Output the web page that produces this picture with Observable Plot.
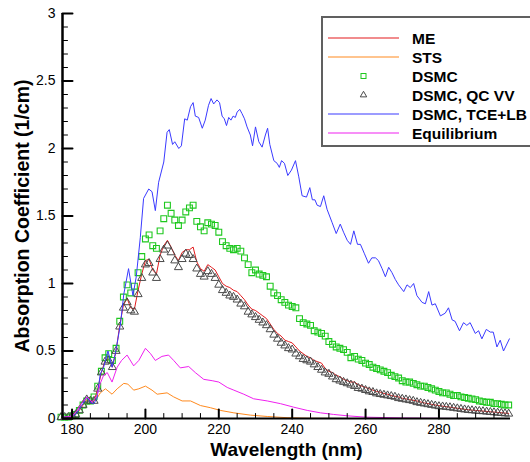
<!DOCTYPE html>
<html><head><meta charset="utf-8">
<script src="https://cdn.jsdelivr.net/npm/d3@7"></script>
<script src="https://cdn.jsdelivr.net/npm/@observablehq/plot@0.6"></script>
<style>body{margin:0;background:#fff;} #chart{position:relative;width:530px;height:462px;overflow:hidden;}</style>
</head><body><div id="chart"></div>
<script>
const seriesNames = ["ME","STS","DSMC","DSMC, QC VV","DSMC, TCE+LB","Equilibrium"];
const seriesColors = ["#e31a1c","#ff8a1e","#1ec81e","#4a4a4a","#3a3aff","#f020f0"];
const xMajorTicks = [180,200,220,240,260,280];
const xMinorTicks = [185,190,195,205,210,215,225,230,235,245,250,255,265,270,275,285,290,295];
const yMajorTicks = [0,0.5,1,1.5,2,2.5,3];
const yMinorTicks = [0.1,0.2,0.3,0.4,0.6,0.7,0.8,0.9,1.1,1.2,1.3,1.4,1.6,1.7,1.8,1.9,2.1,2.2,2.3,2.4,2.6,2.7,2.8,2.9];
const xTitle = "Wavelength (nm)";
const yTitle = "Absorption Coefficient (1/cm)";

// ME
const me = [[177.5,0.01],[179,0.01],[180,0.02],[181,0.03],[182,0.06],[183,0.10],[184,0.14],[185,0.12],[186,0.13],[187,0.22],[188,0.34],[189,0.43],[190,0.44],[191,0.38],[192,0.50],[193,0.69],[194,0.84],[195,0.89],[196,0.82],[197,0.81],[198,0.95],[199,1.07],[200,1.17],[201,1.18],[202,1.10],[203,1.07],[204,1.21],[205,1.28],[206,1.32],[207,1.27],[208,1.21],[209,1.17],[210,1.23],[211,1.25],[212,1.25],[213,1.27],[214,1.16],[215,1.11],[216,1.09],[217,1.14],[218,1.12],[219,1.10],[220,1.05],[221,1.00],[222,0.98],[223,0.97],[224,0.95],[225,0.94],[226,0.91],[227,0.88],[228,0.84],[229,0.81],[230,0.80],[231,0.78],[232,0.76],[233,0.74],[234,0.70],[235,0.66],[236,0.63],[237,0.61],[238,0.58],[239,0.57],[240,0.56],[241,0.53],[242,0.50],[243,0.48],[244,0.46],[245,0.45],[246,0.43],[247,0.42],[248,0.41],[249,0.37],[250,0.35],[251,0.34],[252,0.32],[253,0.31],[254,0.29],[255,0.28],[256,0.27],[257,0.27],[258,0.25],[259,0.24],[260,0.23],[261,0.22],[262,0.21],[263,0.20],[264,0.195],[265,0.185],[266,0.18],[267,0.17],[268,0.165],[269,0.16],[270,0.15],[272,0.14],[274,0.13],[276,0.115],[278,0.105],[280,0.095],[282,0.088],[284,0.08],[286,0.072],[288,0.065],[290,0.06],[292,0.055],[294,0.05],[296,0.045],[298,0.04],[299,0.038]];

// STS
const sts = [[177.5,0.01],[180,0.015],[181.4,0.05],[182.8,0.10],[184.1,0.14],[185.5,0.12],[186.8,0.15],[187.7,0.19],[189.1,0.22],[190.9,0.18],[192.3,0.22],[194.1,0.26],[195.2,0.255],[196.8,0.21],[198.2,0.22],[200,0.24],[201.8,0.21],[203.2,0.18],[205.9,0.19],[207.7,0.16],[210,0.13],[212.3,0.13],[215,0.096],[217.7,0.08],[220.4,0.06],[224.1,0.042],[228.6,0.025],[233.2,0.015],[238.6,0.006],[244,0.002],[255,0.0],[299,0.0]];

// DSMC
const dsmc = [[177,0.01],[178,0.01],[179,0.01],[180,0.02],[181,0.03],[182,0.06],[183,0.10],[184,0.13],[185,0.13],[186,0.16],[187,0.24],[188,0.35],[189,0.45],[190,0.48],[191,0.43],[192,0.52],[193,0.72],[194,0.90],[195,0.99],[196,0.93],[197,0.98],[198,1.08],[199,1.20],[200,1.33],[201,1.36],[202,1.28],[203,1.26],[204,1.39],[205,1.48],[206,1.58],[207,1.52],[208,1.47],[209,1.43],[210,1.47],[211,1.53],[212,1.56],[213,1.58],[214,1.46],[215,1.42],[216,1.39],[217,1.45],[218,1.44],[219,1.43],[220,1.38],[221,1.31],[222,1.28],[223,1.26],[224,1.25],[225,1.26],[226,1.24],[227,1.19],[228,1.14],[229,1.08],[230,1.10],[231,1.07],[232,1.06],[233,1.05],[234,0.98],[235,0.93],[236,0.91],[237,0.88],[238,0.86],[239,0.84],[240,0.83],[241,0.82],[242,0.74],[243,0.71],[244,0.70],[245,0.69],[246,0.65],[247,0.64],[248,0.63],[249,0.61],[250,0.57],[251,0.55],[252,0.53],[253,0.52],[254,0.51],[255,0.49],[256,0.45],[257,0.46],[258,0.44],[259,0.43],[260,0.41],[261,0.40],[262,0.38],[263,0.37],[264,0.36],[265,0.35],[266,0.34],[267,0.32],[268,0.31],[269,0.30],[270,0.28],[271,0.27],[272,0.27],[273,0.26],[274,0.25],[275,0.24],[276,0.24],[277,0.23],[278,0.22],[279,0.21],[280,0.20],[281,0.19],[282,0.19],[283,0.18],[284,0.17],[285,0.17],[286,0.16],[287,0.155],[288,0.15],[289,0.145],[290,0.14],[291,0.13],[292,0.125],[293,0.12],[294,0.12],[295,0.11],[296,0.11],[297,0.105],[298,0.10],[299,0.10]];

// DSMC, QC VV
const qcvv = [[177,0.01],[178,0.01],[179,0.01],[180,0.02],[181,0.03],[182,0.06],[183,0.10],[184,0.14],[185,0.13],[186,0.13],[187,0.22],[188,0.34],[189,0.42],[190,0.43],[191,0.38],[192,0.50],[193,0.68],[194,0.82],[195,0.86],[196,0.80],[197,0.79],[198,0.92],[199,1.04],[200,1.14],[201,1.15],[202,1.08],[203,1.04],[204,1.18],[205,1.25],[206,1.28],[207,1.23],[208,1.17],[209,1.12],[210,1.18],[211,1.22],[212,1.21],[213,1.18],[214,1.11],[215,1.07],[216,1.05],[217,1.09],[218,1.07],[219,1.04],[220,0.99],[221,0.95],[222,0.93],[223,0.91],[224,0.90],[225,0.88],[226,0.85],[227,0.83],[228,0.79],[229,0.77],[230,0.75],[231,0.73],[232,0.71],[233,0.69],[234,0.66],[235,0.62],[236,0.59],[237,0.56],[238,0.54],[239,0.52],[240,0.51],[241,0.48],[242,0.46],[243,0.44],[244,0.43],[245,0.42],[246,0.40],[247,0.38],[248,0.36],[249,0.34],[250,0.33],[251,0.31],[252,0.29],[253,0.28],[254,0.27],[255,0.26],[256,0.25],[257,0.24],[258,0.225],[259,0.22],[260,0.21],[261,0.20],[262,0.195],[263,0.185],[264,0.18],[265,0.175],[266,0.17],[267,0.165],[268,0.16],[269,0.15],[270,0.145],[271,0.14],[272,0.135],[273,0.13],[274,0.12],[275,0.115],[276,0.11],[277,0.105],[278,0.10],[279,0.095],[280,0.09],[281,0.088],[282,0.085],[283,0.082],[284,0.078],[285,0.074],[286,0.07],[287,0.066],[288,0.062],[289,0.06],[290,0.057],[291,0.055],[292,0.053],[293,0.05],[294,0.047],[295,0.045],[296,0.042],[297,0.04],[298,0.037],[299,0.035]];

// DSMC, TCE+LB
const tcelb = [[177.5,0.01],[179,0.01],[180,0.02],[181,0.03],[182,0.07],[183,0.11],[184,0.16],[185,0.12],[185.9,0.11],[186.8,0.15],[187.7,0.33],[188.6,0.38],[189.8,0.50],[190.9,0.38],[191.8,0.48],[193.2,0.70],[194.1,0.92],[195.4,1.11],[196.6,0.91],[197.5,1.05],[198.6,1.34],[199.5,1.63],[200.9,1.70],[201.8,1.68],[202.7,1.54],[203.6,1.75],[205,1.90],[205.9,2.12],[206.5,2.14],[207.4,2.03],[208,2.05],[209.1,2.00],[209.8,2.02],[210.7,2.22],[211.4,2.21],[212.3,2.31],[213,2.34],[213.6,2.24],[214.5,2.23],[215.5,2.15],[216.3,2.21],[217.2,2.32],[217.9,2.37],[218.6,2.33],[219.5,2.36],[220.2,2.34],[220.9,2.24],[221.5,2.22],[222.1,2.17],[222.7,2.23],[223.3,2.21],[223.9,2.24],[224.5,2.23],[225,2.27],[225.7,2.29],[226.3,2.26],[227,2.22],[227.7,2.16],[228.6,2.10],[229.2,2.02],[230,2.16],[230.9,2.05],[231.8,2.01],[232.7,2.10],[233.3,2.15],[233.9,2.03],[235,1.91],[235.9,1.89],[236.5,1.86],[237.1,1.91],[237.9,1.89],[238.8,1.80],[239.8,1.84],[240.9,1.91],[241.8,1.79],[242.7,1.65],[243.9,1.64],[244.8,1.71],[245.5,1.62],[246.2,1.62],[246.8,1.58],[247.7,1.57],[248.6,1.65],[249.5,1.55],[250.9,1.45],[252,1.37],[253.1,1.44],[254,1.38],[255,1.32],[255.9,1.29],[256.8,1.39],[257.8,1.29],[258.6,1.29],[259.7,1.22],[260.8,1.15],[261.7,1.19],[262.7,1.19],[263.5,1.17],[264.5,1.11],[265.4,1.05],[266.3,1.12],[267.2,1.08],[268.1,1.03],[269,0.99],[270.4,0.94],[271.3,0.99],[272.2,0.97],[273.1,1.00],[274,0.91],[275.4,0.86],[276.3,0.85],[277.2,0.94],[278.1,0.84],[279,0.85],[280.4,0.76],[281.7,0.78],[282.6,0.82],[283.6,0.73],[284.4,0.72],[285.6,0.65],[286.7,0.71],[287.6,0.69],[288.5,0.71],[289.9,0.63],[290.8,0.65],[291.7,0.59],[292.9,0.66],[294,0.64],[294.8,0.64],[295.8,0.53],[296.7,0.58],[297.6,0.50],[299.2,0.59]];

// Equilibrium
const equil = [[177.5,0.01],[180,0.015],[181.4,0.06],[182.8,0.12],[184.1,0.16],[185.5,0.12],[186.8,0.17],[187.7,0.26],[188.6,0.32],[189.6,0.34],[190.9,0.27],[192.3,0.38],[193.5,0.43],[195,0.47],[196.8,0.39],[198.2,0.43],[200,0.52],[201.4,0.48],[202.7,0.43],[204.5,0.46],[206.3,0.47],[207.7,0.43],[209.5,0.375],[211.8,0.385],[213.6,0.34],[215.9,0.29],[218.2,0.28],[220,0.27],[222.3,0.23],[224.1,0.21],[226.8,0.18],[229.5,0.146],[233.2,0.13],[236.8,0.11],[240.4,0.084],[244.1,0.06],[247.7,0.042],[251.3,0.03],[255,0.02],[260,0.01],[270,0.004],[280,0.001],[290,0.0],[299,0.0]];

const xDomain = [177.4, 299.5];
const font = "'Liberation Sans', Arial, Helvetica, sans-serif";
const tickShape = {draw(context, l) { context.moveTo(0, 0); context.lineTo(0, -l); }};

const svg = Plot.plot({
  width: 530, height: 462,
  marginLeft: 62, marginRight: 20, marginTop: 13, marginBottom: 44,
  style: {fontFamily: font, background: "#fff", overflow: "visible"},
  x: {domain: xDomain, axis: null},
  y: {domain: [0, 3], axis: null},
  marks: [
    Plot.line(me, {x: d => d[0], y: d => d[1], stroke: seriesColors[0], strokeWidth: 1}),
    Plot.line(sts, {x: d => d[0], y: d => d[1], stroke: seriesColors[1], strokeWidth: 1}),
    Plot.dot(dsmc, {x: d => d[0], y: d => d[1], symbol: "square", r: 3.3, stroke: seriesColors[2], fill: "none", strokeWidth: 1.1}),
    Plot.dot(qcvv, {x: d => d[0], y: d => d[1], symbol: "triangle", r: 3, stroke: seriesColors[3], fill: "none", strokeWidth: 1}),
    Plot.line(tcelb, {x: d => d[0], y: d => d[1], stroke: seriesColors[4], strokeWidth: 1}),
    Plot.line(equil, {x: d => d[0], y: d => d[1], stroke: seriesColors[5], strokeWidth: 1}),
    // tick marks pointing inward
    Plot.vector(xMajorTicks, {x: d => d, y: 0, length: 9, rotate: 0, anchor: "start", shape: tickShape, stroke: "#000", strokeWidth: 2}),
    Plot.vector(xMinorTicks, {x: d => d, y: 0, length: 5, rotate: 0, anchor: "start", shape: tickShape, stroke: "#000", strokeWidth: 1}),
    Plot.vector(yMajorTicks, {x: xDomain[0], y: d => d, length: 10, rotate: 90, anchor: "start", shape: tickShape, stroke: "#000", strokeWidth: 2}),
    Plot.vector(yMinorTicks, {x: xDomain[0], y: d => d, length: 5, rotate: 90, anchor: "start", shape: tickShape, stroke: "#000", strokeWidth: 1}),
    // tick labels
    Plot.axisX({ticks: xMajorTicks, tickSize: 0, tickPadding: 6, tickFormat: d => String(d), fontSize: 14, label: null, fill: "#000"}),
    Plot.axisY({ticks: yMajorTicks, tickSize: 0, tickPadding: 7, tickFormat: d => String(d), fontSize: 14, label: null, fill: "#000"}),
    Plot.ruleY([0], {stroke: "#000", strokeWidth: 2}),
    Plot.ruleX([xDomain[0]], {stroke: "#000", strokeWidth: 2.5}),
    Plot.text([xTitle], {frameAnchor: "bottom", dy: 31, lineAnchor: "middle", textAnchor: "middle", fontWeight: "bold", fontSize: 19, fill: "#000"}),
    Plot.text([yTitle], {frameAnchor: "left", dx: -40, rotate: -90, lineAnchor: "middle", textAnchor: "middle", fontWeight: "bold", fontSize: 19.5, fill: "#000"})
  ]
});
document.getElementById("chart").appendChild(svg);

// Legend
const lg = d3.select(svg).append("g").attr("font-family", font).attr("text-anchor", "start");
lg.append("rect").attr("x", 322).attr("y", 17).attr("width", 230).attr("height", 129)
  .attr("fill", "#fff").attr("stroke", "#606060").attr("stroke-width", 2);
const rowY0 = 38, rowDy = 19;
seriesNames.forEach((name, i) => {
  const y = rowY0 + i * rowDy;
  if (i === 2) {
    lg.append("rect").attr("x", 361).attr("y", y - 2.5).attr("width", 5).attr("height", 5)
      .attr("fill", "none").attr("stroke", seriesColors[i]).attr("stroke-width", 1);
  } else if (i === 3) {
    lg.append("path").attr("d", d3.symbol(d3.symbolTriangle, 18)()).attr("transform", `translate(363.5,${y})`)
      .attr("fill", "none").attr("stroke", seriesColors[i]).attr("stroke-width", 1);
  } else {
    lg.append("line").attr("x1", 328).attr("x2", 399).attr("y1", y).attr("y2", y)
      .attr("stroke", seriesColors[i]).attr("stroke-width", 1.2);
  }
  lg.append("text").attr("x", 412).attr("y", y).attr("dy", "0.36em").attr("text-anchor", "start")
    .attr("font-size", 15.5).attr("font-weight", "bold").attr("fill", "#000").text(name);
});
</script>
</body></html>
